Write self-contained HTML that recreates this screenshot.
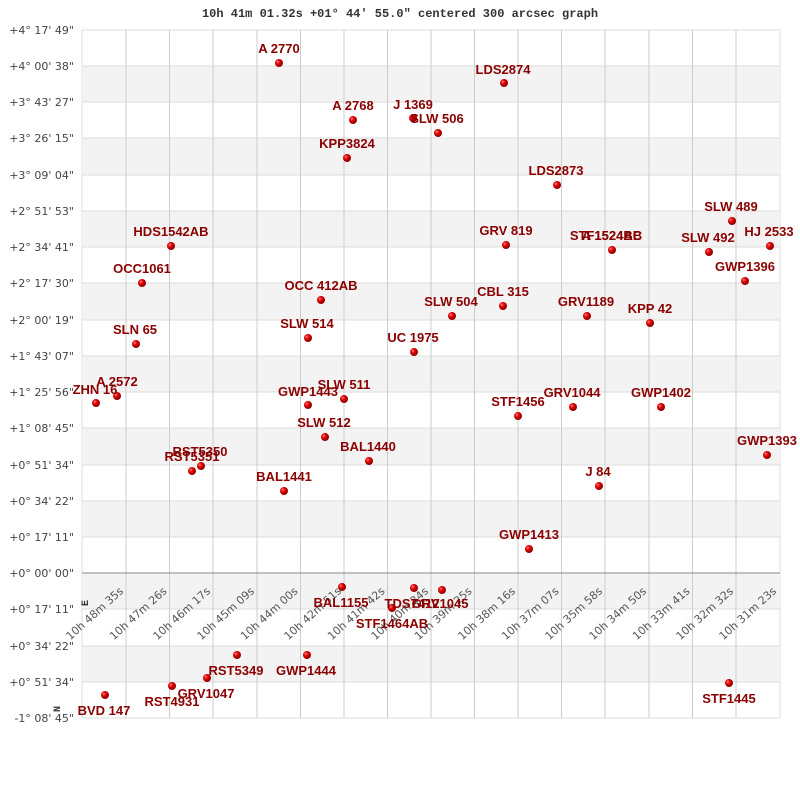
<!DOCTYPE html>
<html><head><meta charset="utf-8"><style>
body{margin:0;background:#fff}
svg{display:block}
.yl{font:11px "DejaVu Sans","Liberation Sans",sans-serif;fill:#444;text-anchor:end}
.xl{font:11px "DejaVu Sans","Liberation Sans",sans-serif;fill:#555;text-anchor:end}
.s{font:bold 13px "Liberation Sans",sans-serif;fill:#8b0000;text-anchor:middle;white-space:pre}
</style></head><body>
<svg width="800" height="800" viewBox="0 0 800 800" xmlns="http://www.w3.org/2000/svg">
<defs><radialGradient id="g" cx="0.35" cy="0.35" r="0.7"><stop offset="0" stop-color="#ff8080"/><stop offset="0.4" stop-color="#e00000"/><stop offset="1" stop-color="#800000"/></radialGradient></defs>
<text x="400" y="17" text-anchor="middle" style="font:bold 12px 'Liberation Mono',monospace;fill:#333">10h 41m 01.32s +01° 44′ 55.0" centered 300 arcsec graph</text>
<rect x="82" y="30" width="698" height="688" fill="#fff" stroke="#ddd"/>
<g fill="#f3f3f3">
<rect x="82" y="66" width="698" height="36"/><rect x="82" y="138" width="698" height="37"/><rect x="82" y="211" width="698" height="36"/><rect x="82" y="283" width="698" height="37"/><rect x="82" y="356" width="698" height="36"/><rect x="82" y="428" width="698" height="37"/><rect x="82" y="501" width="698" height="36"/><rect x="82" y="573" width="698" height="36"/><rect x="82" y="646" width="698" height="36"/>
</g>
<g stroke="#ddd">
<line x1="82" x2="780" y1="66" y2="66"/><line x1="82" x2="780" y1="102" y2="102"/><line x1="82" x2="780" y1="138" y2="138"/><line x1="82" x2="780" y1="175" y2="175"/><line x1="82" x2="780" y1="211" y2="211"/><line x1="82" x2="780" y1="247" y2="247"/><line x1="82" x2="780" y1="283" y2="283"/><line x1="82" x2="780" y1="320" y2="320"/><line x1="82" x2="780" y1="356" y2="356"/><line x1="82" x2="780" y1="392" y2="392"/><line x1="82" x2="780" y1="428" y2="428"/><line x1="82" x2="780" y1="465" y2="465"/><line x1="82" x2="780" y1="501" y2="501"/><line x1="82" x2="780" y1="537" y2="537"/><line x1="82" x2="780" y1="609" y2="609"/><line x1="82" x2="780" y1="646" y2="646"/><line x1="82" x2="780" y1="682" y2="682"/>
</g>
<g stroke="#ccc">
<line x1="126" x2="126" y1="30" y2="718"/><line x1="169.5" x2="169.5" y1="30" y2="718"/><line x1="213" x2="213" y1="30" y2="718"/><line x1="257" x2="257" y1="30" y2="718"/><line x1="300.5" x2="300.5" y1="30" y2="718"/><line x1="344" x2="344" y1="30" y2="718"/><line x1="387.5" x2="387.5" y1="30" y2="718"/><line x1="431" x2="431" y1="30" y2="718"/><line x1="474.5" x2="474.5" y1="30" y2="718"/><line x1="518" x2="518" y1="30" y2="718"/><line x1="561.5" x2="561.5" y1="30" y2="718"/><line x1="605" x2="605" y1="30" y2="718"/><line x1="649" x2="649" y1="30" y2="718"/><line x1="692.5" x2="692.5" y1="30" y2="718"/><line x1="736" x2="736" y1="30" y2="718"/>
</g>
<line x1="82" x2="780" y1="573" y2="573" stroke="#888"/>
<g class="yl">
<text x="74" y="34">+4° 17' 49"</text><text x="74" y="70">+4° 00' 38"</text><text x="74" y="106">+3° 43' 27"</text><text x="74" y="142">+3° 26' 15"</text><text x="74" y="179">+3° 09' 04"</text><text x="74" y="215">+2° 51' 53"</text><text x="74" y="251">+2° 34' 41"</text><text x="74" y="287">+2° 17' 30"</text><text x="74" y="324">+2° 00' 19"</text><text x="74" y="360">+1° 43' 07"</text><text x="74" y="396">+1° 25' 56"</text><text x="74" y="432">+1° 08' 45"</text><text x="74" y="469">+0° 51' 34"</text><text x="74" y="505">+0° 34' 22"</text><text x="74" y="541">+0° 17' 11"</text><text x="74" y="577">+0° 00' 00"</text><text x="74" y="613">+0° 17' 11"</text><text x="74" y="650">+0° 34' 22"</text><text x="74" y="686">+0° 51' 34"</text><text x="74" y="722">-1° 08' 45"</text>
</g>
<g class="xl">
<text transform="translate(124,592) rotate(-42)">10h 48m 35s</text>
<text transform="translate(167.5,592) rotate(-42)">10h 47m 26s</text>
<text transform="translate(211,592) rotate(-42)">10h 46m 17s</text>
<text transform="translate(255,592) rotate(-42)">10h 45m 09s</text>
<text transform="translate(298.5,592) rotate(-42)">10h 44m 00s</text>
<text transform="translate(342,592) rotate(-42)">10h 42m 51s</text>
<text transform="translate(385.5,592) rotate(-42)">10h 41m 42s</text>
<text transform="translate(429,592) rotate(-42)">10h 40m 34s</text>
<text transform="translate(472.5,592) rotate(-42)">10h 39m 25s</text>
<text transform="translate(516,592) rotate(-42)">10h 38m 16s</text>
<text transform="translate(559.5,592) rotate(-42)">10h 37m 07s</text>
<text transform="translate(603,592) rotate(-42)">10h 35m 58s</text>
<text transform="translate(647,592) rotate(-42)">10h 34m 50s</text>
<text transform="translate(690.5,592) rotate(-42)">10h 33m 41s</text>
<text transform="translate(734,592) rotate(-42)">10h 32m 32s</text>
<text transform="translate(777,592) rotate(-42)">10h 31m 23s</text>
</g>
<text transform="translate(88,606) rotate(-90)" style="font:bold 10px 'Liberation Mono',monospace;fill:#333">E</text>
<text transform="translate(60,712) rotate(-90)" style="font:bold 10px 'Liberation Mono',monospace;fill:#333">N</text>
<g fill="url(#g)">
<circle cx="279" cy="63" r="4"/><circle cx="504" cy="83" r="4"/><circle cx="353" cy="120" r="4"/><circle cx="413" cy="118" r="4"/><circle cx="438" cy="133" r="4"/><circle cx="347" cy="158" r="4"/><circle cx="557" cy="185" r="4"/><circle cx="732" cy="221" r="4"/><circle cx="171" cy="246" r="4"/><circle cx="506" cy="245" r="4"/><circle cx="612" cy="250" r="4"/><circle cx="709" cy="252" r="4"/><circle cx="770" cy="246" r="4"/><circle cx="745" cy="281" r="4"/><circle cx="142" cy="283" r="4"/><circle cx="321" cy="300" r="4"/><circle cx="452" cy="316" r="4"/><circle cx="503" cy="306" r="4"/><circle cx="587" cy="316" r="4"/><circle cx="650" cy="323" r="4"/><circle cx="136" cy="344" r="4"/><circle cx="308" cy="338" r="4"/><circle cx="414" cy="352" r="4"/><circle cx="96" cy="403" r="4"/><circle cx="117" cy="396" r="4"/><circle cx="308" cy="405" r="4"/><circle cx="344" cy="399" r="4"/><circle cx="518" cy="416" r="4"/><circle cx="573" cy="407" r="4"/><circle cx="661" cy="407" r="4"/><circle cx="325" cy="437" r="4"/><circle cx="369" cy="461" r="4"/><circle cx="767" cy="455" r="4"/><circle cx="201" cy="466" r="4"/><circle cx="192" cy="471" r="4"/><circle cx="599" cy="486" r="4"/><circle cx="284" cy="491" r="4"/><circle cx="529" cy="549" r="4"/><circle cx="342" cy="587" r="4"/><circle cx="414" cy="588" r="4"/><circle cx="392" cy="608" r="4"/><circle cx="442" cy="590" r="4"/><circle cx="237" cy="655" r="4"/><circle cx="307" cy="655" r="4"/><circle cx="207" cy="678" r="4"/><circle cx="172" cy="686" r="4"/><circle cx="105" cy="695" r="4"/><circle cx="729" cy="683" r="4"/>
</g>
<g class="s" xml:space="preserve">
<text x="279" y="53">A  2770</text><text x="503" y="74">LDS2874</text><text x="353" y="110">A  2768</text><text x="413" y="109">J  1369</text><text x="437" y="123">SLW 506</text><text x="347" y="148">KPP3824</text><text x="556" y="175">LDS2873</text><text x="731" y="211">SLW 489</text><text x="171" y="236">HDS1542AB</text><text x="506" y="235">GRV 819</text><text x="606" y="240">STF1524BC</text><text x="612" y="240">A  1524AB</text><text x="708" y="242">SLW 492</text><text x="769" y="236">HJ 2533</text><text x="745" y="271">GWP1396</text><text x="142" y="273">OCC1061</text><text x="321" y="290">OCC 412AB</text><text x="451" y="306">SLW 504</text><text x="503" y="296">CBL 315</text><text x="586" y="306">GRV1189</text><text x="650" y="313">KPP  42</text><text x="135" y="334">SLN  65</text><text x="307" y="328">SLW 514</text><text x="413" y="342">UC 1975</text><text x="95" y="394">ZHN  16</text><text x="117" y="386">A  2572</text><text x="308" y="396">GWP1443</text><text x="344" y="389">SLW 511</text><text x="518" y="406">STF1456</text><text x="572" y="397">GRV1044</text><text x="661" y="397">GWP1402</text><text x="324" y="427">SLW 512</text><text x="368" y="451">BAL1440</text><text x="767" y="445">GWP1393</text><text x="200" y="456">RST5350</text><text x="192" y="461">RST5351</text><text x="598" y="476">J    84</text><text x="284" y="481">BAL1441</text><text x="529" y="539">GWP1413</text><text x="341" y="607">BAL1155</text><text x="412" y="608">TDS7412</text><text x="440" y="608">GRV1045</text><text x="392" y="628">STF1464AB</text><text x="236" y="675">RST5349</text><text x="306" y="675">GWP1444</text><text x="206" y="698">GRV1047</text><text x="172" y="706">RST4931</text><text x="104" y="715">BVD 147</text><text x="729" y="703">STF1445</text>
</g>
</svg>
</body></html>
